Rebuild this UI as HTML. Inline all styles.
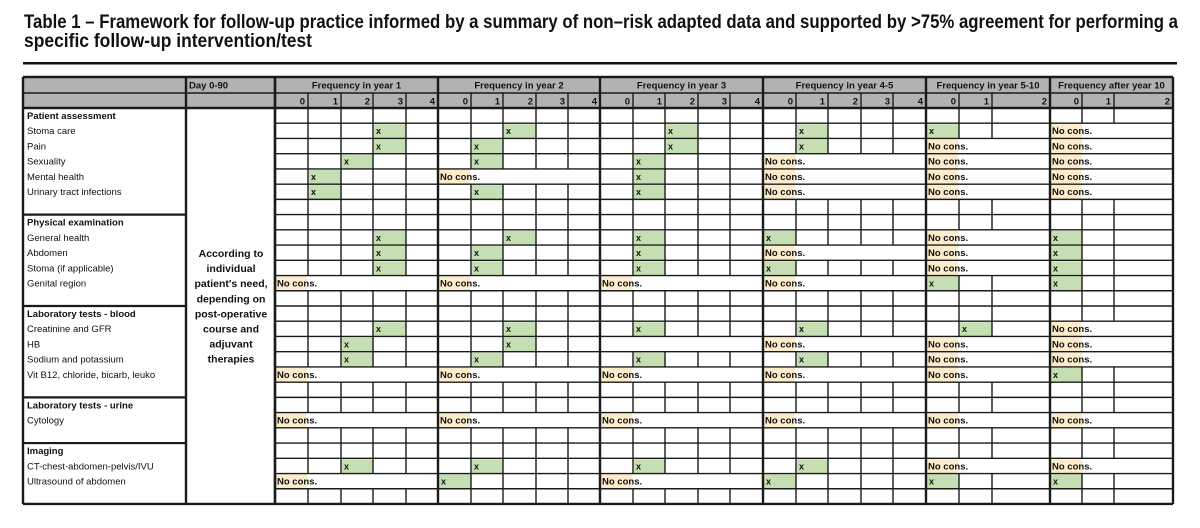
<!DOCTYPE html>
<html><head><meta charset="utf-8"><title>Table 1 – Follow-up framework</title>
<style>
html,body{margin:0;padding:0;background:#fff;}
svg{display:block;font-family:"Liberation Sans",Arial,sans-serif;}
</style></head>
<body>
<svg id="tbl" width="1200" height="528" viewBox="0 0 1200 528" xmlns="http://www.w3.org/2000/svg">
<text x="24" y="28" font-size="19" font-weight="bold" fill="#111" textLength="1154" lengthAdjust="spacingAndGlyphs">Table 1 – Framework for follow-up practice informed by a summary of non–risk adapted data and supported by &gt;75% agreement for performing a</text>
<text x="24" y="47" font-size="19" font-weight="bold" fill="#111" textLength="288" lengthAdjust="spacingAndGlyphs">specific follow-up intervention/test</text>
<rect x="23" y="62" width="1154" height="2.5" fill="#111"/>
<g id="layer-fill"></g><g id="layer-text"></g><g id="layer-lines"></g>
</svg>
<script>
// ---- data ----
const groupTitles = ["Frequency in year 1","Frequency in year 2","Frequency in year 3","Frequency in year 4-5","Frequency in year 5-10","Frequency after  year 10"];
const groupTicks = [["0","1","2","3","4"],["0","1","2","3","4"],["0","1","2","3","4"],["0","1","2","3","4"],["0","1","2"],["0","1","2"]];
const rowLabels = ["Patient assessment","Stoma care","Pain","Sexuality","Mental health","Urinary tract infections","",
 "Physical examination","General health","Abdomen","Stoma (if applicable)","Genital region","",
 "Laboratory tests - blood","Creatinine and GFR","HB","Sodium and potassium","Vit B12, chloride, bicarb, leuko","",
 "Laboratory tests - urine","Cytology","",
 "Imaging","CT-chest-abdomen-pelvis/IVU","Ultrasound of abdomen",""];
const sectionStarts = [0,7,13,19,22];
// per row, per group: number = column marked x, "N" = No cons., "E" = empty merged, null = empty grid
const rowValues = [
 [null,null,null,null,null,null],
 [3,2,2,1,0,"N"],
 [3,1,2,1,"N","N"],
 [2,1,1,"N","N","N"],
 [1,"N",1,"N","N","N"],
 [1,1,1,"N","N","N"],
 [null,null,null,null,null,null],
 [null,null,null,null,null,null],
 [3,2,1,0,"N",0],
 [3,1,1,"N","N",0],
 [3,1,1,0,"N",0],
 ["N","N","N","N",0,0],
 [null,null,null,null,null,null],
 [null,null,null,null,null,null],
 [3,2,1,1,1,"N"],
 [2,2,"E","N","N","N"],
 [2,1,1,1,"N","N"],
 ["N","N","N","N","N",0],
 [null,null,null,null,null,null],
 [null,null,null,null,null,null],
 ["N","N","N","N","N","N"],
 [null,null,null,null,null,null],
 [null,null,null,null,null,null],
 [2,1,1,1,"N","N"],
 ["N",0,"N",0,0,0],
 [null,null,null,null,null,null]
];
const dayText = ["According to","individual","patient's need,","depending on","post-operative","course and","adjuvant","therapies"];

// ---- layout ----
const NS="http://www.w3.org/2000/svg";
const L=23, R=1173, XDAY=186, XG0=275;
const groupCols=[[275,308,341,373,406,438],[438,471,503,536,568,600],[600,633,665,698,730,763],[763,796,828,861,893,926],[926,959,992,1050],[1050,1082,1114,1173]];
const H1=77,H2=93,Y0=108,RH=15.23;
const rowY=i=>Y0+i*RH;
const fillL=document.getElementById('layer-fill'), textL=document.getElementById('layer-text'), lineL=document.getElementById('layer-lines');
function mk(tag,attrs,parent){const e=document.createElementNS(NS,tag);for(const k in attrs)e.setAttribute(k,attrs[k]);parent.appendChild(e);return e;}
function line(x1,y1,x2,y2,w,name){const e=mk('line',{x1,y1,x2,y2,stroke:'#1a1a1a','stroke-width':w},lineL);

return e;}
function txt(s,x,y,opt,name){const e=mk('text',Object.assign({x,y,'font-size':9.5,fill:'#111'},opt||{}),textL);e.textContent=s;

return e;}

// header fill
const hf=mk('rect',{x:L,y:H1,width:R-L,height:Y0-H1,fill:'#b2b2b2'},fillL);


txt("Day 0-90",XDAY+3,H1+11.5,{'font-weight':'bold'},'day-0-90-header');
groupTitles.forEach((t,g)=>{const c=groupCols[g];
 txt(t,(c[0]+c[c.length-1])/2,H1+11.5,{'font-weight':'bold','text-anchor':'middle'},'group-header-'+g);
 groupTicks[g].forEach((tk,k)=>txt(tk,c[k+1]-3,H2+11.5,{'font-weight':'bold','text-anchor':'end'},'column-tick-'+g+'-'+k));
});
// rows
rowLabels.forEach((lab,i)=>{
 const y=rowY(i);
 if(lab) txt(lab,27,y+11,sectionStarts.includes(i)?{'font-weight':'bold'}:{}, 'row-label-'+i);
 rowValues[i].forEach((v,g)=>{const c=groupCols[g];
  if(v==="N"){const r=mk('rect',{x:c[0]+1,y:y+1,width:31,height:RH-1.5,fill:'#fdeccb'},fillL);
   
   
   txt("No cons.",c[0]+2,y+11,{'font-weight':'bold'},'no-consensus-label');}
  else if(typeof v==="number"){const r=mk('rect',{x:c[v]+1,y:y+1,width:c[v+1]-c[v]-1.5,height:RH-1.5,fill:'#c5dfb2'},fillL);
   
   
   txt("x",c[v]+3,y+11,{'font-weight':'bold','font-size':9},'recommended-mark');}
 });
});
dayText.forEach((s,k)=>txt(s,231,257+k*15.1,{'font-weight':'bold','font-size':10.5,'text-anchor':'middle'},'day-note-line'));

// lines
[H1,H2,Y0].forEach(y=>line(L,y,R,y,y===H2?1.6:2.4,'header-rule'));
for(let i=1;i<=rowLabels.length;i++){const y=rowY(i);line(XG0,y,R,y,i===rowLabels.length?2.4:1.4,'row-rule');}
sectionStarts.slice(1).forEach(i=>line(L,rowY(i),XDAY,rowY(i),2.2,'section-rule'));
line(L,rowY(rowLabels.length),XG0,rowY(rowLabels.length),2.4,'bottom-rule');
const yEnd=rowY(rowLabels.length);
[L,XDAY,XG0].concat(groupCols.map(c=>c[0]),[R]).forEach(x=>line(x,H1,x,yEnd,2.4,'group-boundary'));
groupCols.forEach((c,g)=>{
 for(let k=1;k<c.length-1;k++){
  line(c[k],H2,c[k],Y0,1.4,'tick-divider');
  rowValues.forEach((row,i)=>{const v=row[g];
   if(v==="N"||v==="E")return;
   line(c[k],rowY(i),c[k],rowY(i+1),1.4,'cell-divider');});
 }
});
</script>
</body></html>
